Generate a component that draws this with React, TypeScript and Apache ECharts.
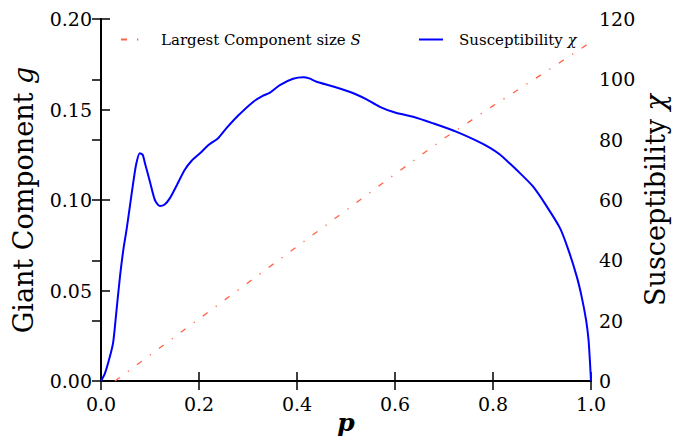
import React, { useEffect, useRef } from "react";
import * as echarts from "echarts";

const xTicks = [0, 0.2, 0.4, 0.6, 0.8, 1.0];
const gTicks = [0, 0.05, 0.1, 0.15, 0.2];
const chiTicks = [0, 20, 40, 60, 80, 100, 120];

// Largest component size S (left axis)
const sP = [0.0285, 0.1, 0.2, 0.3, 0.4, 0.5, 0.6, 0.7, 0.8, 0.9, 1.0];
const sVal = [0, 0.0143, 0.0343, 0.0543, 0.0743, 0.0943, 0.1143, 0.134, 0.152, 0.1695, 0.1873];

// Susceptibility chi (right axis)
const chiP = [
  0, 0.008, 0.018, 0.025, 0.032, 0.039, 0.046, 0.052, 0.059, 0.066, 0.072, 0.079, 0.085, 0.09,
  0.1, 0.11, 0.12, 0.13, 0.141, 0.155, 0.171, 0.185, 0.202, 0.22, 0.239, 0.256, 0.28, 0.311,
  0.33, 0.345, 0.365, 0.392, 0.413, 0.425, 0.44, 0.474, 0.515, 0.54, 0.569, 0.6, 0.637, 0.678,
  0.726, 0.767, 0.794, 0.814, 0.835, 0.855, 0.882, 0.91, 0.937, 0.954, 0.971, 0.981, 0.99,
  0.995, 0.998, 1.0,
];
const chiVal = [
  0, 2.5, 8, 13, 24, 35, 44, 50, 58, 66, 72, 75.5, 75, 72,
  66, 60, 58, 58.5, 60.7, 65, 70, 73, 75.5, 78.3, 80.5, 83.8, 88, 92.6,
  94.5, 95.6, 98.1, 100.2, 100.7, 100.3, 99.2, 97.6, 95.4, 93.5, 90.9, 89, 87.6, 85.4,
  82.6, 79.6, 77.3, 75.1, 72, 68.9, 64.4, 57.8, 50.6, 43.4, 34.6, 27.9, 20.2,
  13.6, 6, 0,
];

const FONT = "DejaVu Serif";

export default function App() {
  const ref = useRef<HTMLDivElement>(null);
  useEffect(() => {
    if (!ref.current) return;
    const chart = echarts.init(ref.current, null, { renderer: "svg" });
    const axisLine = { show: true, lineStyle: { color: "#000", width: 2 } };
    const mkTick = () => ({ show: true, inside: true, length: 9, lineStyle: { color: "#000", width: 1.5 } });
    const labelStyle = { fontFamily: FONT, fontSize: 19, color: "#000" };
    const legendRich = {
      n: { fontFamily: FONT, fontSize: 15, color: "#000" },
      i: { fontFamily: FONT, fontSize: 15, fontStyle: "italic", color: "#000" },
    };
    const nameRich = {
      n: { fontFamily: FONT, fontSize: 27, color: "#000" },
      i: { fontFamily: FONT, fontSize: 27, fontStyle: "italic", color: "#000" },
    };
    chart.setOption({
      animation: false,
      backgroundColor: "#fff",
      grid: { left: 101, right: 97, top: 19, bottom: 61, outerBoundsMode: "none", containLabel: false },
      legend: [
        {
          data: ["S"],
          left: 120,
          top: 32,
          padding: 0,
          itemWidth: 24,
          itemHeight: 14,
          itemStyle: { opacity: 0 },
          formatter: () => "{n|Largest Component size }{i|S}",
          textStyle: { padding: [0, 0, 0, 11], rich: legendRich },
        },
        {
          data: ["chi"],
          left: 418,
          top: 32,
          padding: 0,
          itemWidth: 24,
          itemHeight: 14,
          itemStyle: { opacity: 0 },
          formatter: () => "{n|Susceptibility }{i|χ}",
          textStyle: { padding: [0, 0, 0, 11], rich: legendRich },
        },
      ],
      xAxis: [
        {
          type: "value",
          min: 0,
          max: 1,
          interval: 0.2,
          position: "bottom",
          axisLine,
          axisTick: mkTick(),
          splitLine: { show: false },
          axisLabel: { ...labelStyle, margin: 13, formatter: (v: number) => v.toFixed(1) },
          name: "p",
          nameLocation: "middle",
          nameGap: 29,
          nameMoveOverlap: false,
          nameTextStyle: { fontFamily: FONT, fontSize: 25, fontStyle: "italic", fontWeight: "bold", color: "#000" },
        },
        {
          type: "value",
          min: 0,
          max: 1,
          interval: 0.2,
          position: "top",
          axisLine,
          axisTick: mkTick(),
          splitLine: { show: false },
          axisLabel: { show: false },
        },
      ],
      yAxis: [
        {
          type: "value",
          min: 0,
          max: 0.2,
          interval: 0.05,
          position: "left",
          axisLine,
          axisTick: mkTick(),
          splitLine: { show: false },
          axisLabel: { ...labelStyle, margin: 9, formatter: (v: number) => v.toFixed(2) },
          name: "{n|Giant Component }{i|g}",
          nameLocation: "middle",
          nameGap: 64,
          nameMoveOverlap: false,
          nameTextStyle: { rich: nameRich },
        },
        {
          type: "value",
          min: 0,
          max: 120,
          interval: 20,
          position: "right",
          axisLine,
          axisTick: mkTick(),
          splitLine: { show: false },
          axisLabel: { ...labelStyle, margin: 8 },
          name: "{n|Susceptibility }{i|χ}",
          nameLocation: "middle",
          nameGap: 51,
          nameMoveOverlap: false,
          nameTextStyle: { rich: nameRich },
        },
      ],
      series: [
        {
          name: "S",
          type: "line",
          xAxisIndex: 0,
          yAxisIndex: 0,
          symbol: "none",
          data: sP.map((p, i) => [p, sVal[i]]),
          lineStyle: { color: "#ff6347", width: 1.3, type: [6, 10, 1.3, 10] },
          itemStyle: { color: "#ff6347" },
          z: 3,
        },
        {
          name: "chi",
          type: "line",
          xAxisIndex: 0,
          yAxisIndex: 1,
          symbol: "none",
          smooth: 0.25,
          data: chiP.map((p, i) => [p, chiVal[i]]),
          lineStyle: { color: "#0000ff", width: 2 },
          itemStyle: { color: "#0000ff" },
          z: 2,
        },
      ],
    });
    return () => chart.dispose();
  }, []);
  return <div ref={ref} style={{ width: 688, height: 442, position: "absolute", left: 0, top: 0 }} />;
}
